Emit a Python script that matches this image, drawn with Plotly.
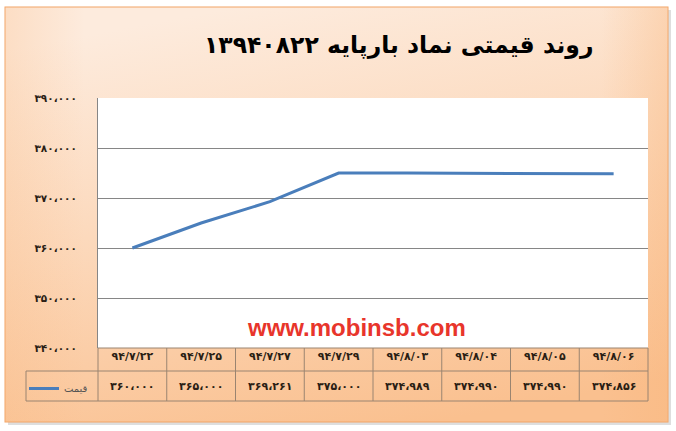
import base64
import plotly.graph_objects as go

# chart data
dates = ["۹۴/۷/۲۲", "۹۴/۷/۲۵", "۹۴/۷/۲۷", "۹۴/۷/۲۹",
         "۹۴/۸/۰۳", "۹۴/۸/۰۴", "۹۴/۸/۰۵", "۹۴/۸/۰۶"]
prices = [360000, 365000, 369261, 375000, 374989, 374990, 374990, 374856]
y_ticks = [340000, 350000, 360000, 370000, 380000, 390000]
series_name = "قیمت"
title_text = "روند قیمتی نماد بارپایه ۱۳۹۴۰۸۲۲"
watermark = "www.mobinsb.com"

FA_DIGITS = str.maketrans("0123456789", "۰۱۲۳۴۵۶۷۸۹")


def fa_number(v):
    # 360000 -> ۳۶۰،۰۰۰
    return f"{v:,}".replace(",", "،").translate(FA_DIGITS)


W, H = 676, 431
L, R, T, B = 98, 28, 98, 83
PW, PH = W - L - R, H - T - B


def px_x(px):
    return (px - L) / PW


def px_y(py):
    return (H - B - py) / PH


FONT = "DejaVu Sans"
TABLE_LINE = "#9A8470"
GRID = "#868686"
TXT = "#2A1E14"

# orange gradient frame behind everything
svg = f"""<svg xmlns='http://www.w3.org/2000/svg' width='{W}' height='{H}' viewBox='0 0 {W} {H}' preserveAspectRatio='none'>
<defs>
<linearGradient id='g' x1='0.35' y1='0' x2='0.65' y2='1'>
<stop offset='0' stop-color='#FDEBDD'/>
<stop offset='0.45' stop-color='#FCD9BC'/>
<stop offset='1' stop-color='#FAC08F'/>
</linearGradient>
<linearGradient id='h' x1='0' y1='0' x2='1' y2='0'>
<stop offset='0' stop-color='#F9B57A' stop-opacity='0.25'/>
<stop offset='0.12' stop-color='#F9B57A' stop-opacity='0'/>
<stop offset='0.9' stop-color='#F9B57A' stop-opacity='0'/>
<stop offset='1' stop-color='#F9B57A' stop-opacity='0.35'/>
</linearGradient>
</defs>
<rect x='0' y='0' width='{W}' height='{H}' fill='white'/>
<rect x='8' y='10' width='663' height='415' fill='#C8C8C8' opacity='0.6'/>
<rect x='5' y='7' width='663' height='415' fill='url(#g)' stroke='#F2A466' stroke-width='1'/>
<rect x='5' y='7' width='663' height='415' fill='url(#h)'/>
</svg>"""
bg_src = "data:image/svg+xml;base64," + base64.b64encode(svg.encode()).decode()

fig = go.Figure()

fig.add_trace(go.Scatter(
    x=dates, y=prices, mode="lines", name=series_name,
    line=dict(color="#4A7EBB", width=3),
))

# value row of the data table
for d, p in zip(dates, prices):
    fig.add_annotation(
        x=d, xref="x", y=px_y(386), yref="paper",
        xanchor="center", yanchor="middle",
        text=fa_number(p), showarrow=False,
        font=dict(family=FONT, size=11, color=TXT, weight="bold"),
    )

# white plot area (the frame image sits above plot_bgcolor)
shapes = [dict(type="rect", xref="paper", yref="paper", x0=0, x1=1, y0=0, y1=1,
               fillcolor="white", line=dict(width=0), layer="below")]

# table borders
n = len(dates)
borders = []
for k in range(n + 1):
    borders.append(dict(type="line", xref="paper", yref="paper",
                        x0=k / n, x1=k / n, y0=0, y1=px_y(401)))
for yy, x_start in [(0, 0), (px_y(371), px_x(26)), (px_y(401), px_x(26))]:
    borders.append(dict(type="line", xref="paper", yref="paper",
                        x0=x_start, x1=1, y0=yy, y1=yy))
borders.append(dict(type="line", xref="paper", yref="paper",
                    x0=px_x(26), x1=px_x(26), y0=px_y(371), y1=px_y(401)))
for s in borders:
    s["layer"] = "above"
    s["line"] = dict(color=TABLE_LINE, width=1)
shapes += borders

fig.add_annotation(
    x=px_x(398), y=px_y(45), xref="paper", yref="paper",
    xanchor="center", yanchor="middle",
    text=title_text, showarrow=False,
    font=dict(family=FONT, size=23.5, color="black", weight="bold"),
)
fig.add_annotation(
    x=px_x(356), y=px_y(327), xref="paper", yref="paper",
    xanchor="center", yanchor="middle",
    text=watermark, showarrow=False,
    font=dict(family="Liberation Sans", size=24, color="#E8352B", weight="bold"),
)

fig.update_layout(
    width=W, height=H,
    margin=dict(l=L, r=R, t=T, b=B),
    paper_bgcolor="white",
    plot_bgcolor="white",
    images=[dict(source=bg_src, xref="paper", yref="paper",
                 x=px_x(0), y=px_y(0), sizex=W / PW, sizey=H / PH,
                 xanchor="left", yanchor="top", sizing="stretch",
                 layer="below")],
    shapes=shapes,
    showlegend=True,
    legend=dict(x=px_x(24), y=px_y(374), xanchor="left", yanchor="top",
                bgcolor="rgba(0,0,0,0)", itemwidth=30,
                font=dict(family=FONT, size=10, color="#555555")),
    xaxis=dict(
        type="category", range=[-0.5, n - 0.5],
        showgrid=False, zeroline=False, showline=False, ticks="",
        tickfont=dict(family=FONT, size=11, color=TXT, weight="bold"),
    ),
    yaxis=dict(
        range=[y_ticks[0], y_ticks[-1]],
        tickvals=y_ticks, ticktext=[fa_number(v) for v in y_ticks],
        showgrid=True, gridcolor=GRID, gridwidth=1,
        zeroline=False, showline=True, linecolor=GRID, ticks="",
        ticklabelstandoff=18,
        tickfont=dict(family=FONT, size=10.5, color=TXT, weight="bold"),
    ),
)

fig.write_html("out.html", config={"displayModeBar": False},
               post_script="document.body.style.margin='0';")
